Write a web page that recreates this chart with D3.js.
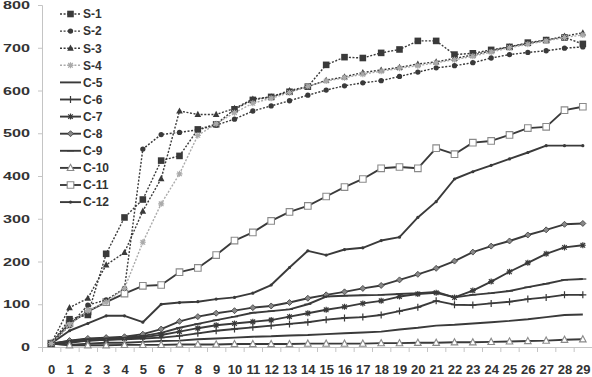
<!DOCTYPE html>
<html>
<head>
<meta charset="utf-8">
<script src="https://cdn.jsdelivr.net/npm/d3@7"></script>
<style>
  body { margin: 0; background: #fff; }
  svg { display: block; }
</style>
</head>
<body>
<svg id="chart"></svg>
<script>
// x categories
const days = [0,1,2,3,4,5,6,7,8,9,10,11,12,13,14,15,16,17,18,19,20,21,22,23,24,25,26,27,28,29];
const yTicks = [0,100,200,300,400,500,600,700,800];

// series values
const s1  = [8,65,75,218,303,345,436,447,509,521,556,578,585,597,609,660,678,676,688,696,716,716,684,687,695,702,712,718,724,709];
const s2  = [8,50,98,110,137,463,497,502,508,519,533,552,564,576,589,601,611,618,623,633,643,653,658,665,676,684,689,693,699,702];
const s3  = [8,92,114,192,221,318,394,552,544,544,558,580,585,600,609,624,632,642,648,654,662,667,675,683,693,702,710,718,727,735];
const s4  = [8,52,85,105,137,245,335,405,495,522,548,570,582,595,610,622,630,638,645,652,658,665,672,680,690,700,708,716,724,730];
const c5  = [8,5,8,10,10,12,14,15,18,20,22,24,25,27,28,30,32,34,36,41,45,50,52,55,58,61,65,70,75,76];
const c6  = [8,10,15,17,18,20,22,26,32,38,42,46,50,54,58,64,68,70,75,84,93,108,99,98,102,106,112,116,122,122];
const c7  = [8,12,15,17,20,23,28,36,44,51,55,59,63,71,79,87,94,102,108,118,124,127,116,132,153,176,197,218,233,238];
const c8  = [8,15,20,22,24,30,42,60,71,79,85,92,96,104,114,122,129,137,144,157,170,184,201,222,236,248,262,274,287,289];
const c9  = [8,14,18,20,22,26,33,45,54,63,71,80,84,88,100,118,120,121,122,124,126,129,116,122,126,131,140,148,157,159];
const c10 = [8,4,4,4,5,5,5,6,6,6,7,7,7,7,8,8,8,8,9,9,10,10,11,11,12,13,14,15,17,18];
const c11 = [8,55,83,105,125,143,145,175,185,215,249,268,295,316,330,352,374,393,418,421,418,465,451,478,482,496,512,515,554,562];
const c12 = [8,38,55,73,73,58,100,104,106,112,116,126,145,186,225,215,228,232,249,257,303,340,393,410,425,440,455,471,471,471];

const series = [
  { name: "S-1",  values: s1,  dotted: true,  color: "#3a3a3a", marker: "square" },
  { name: "S-2",  values: s2,  dotted: true,  color: "#3a3a3a", marker: "circle" },
  { name: "S-3",  values: s3,  dotted: true,  color: "#3a3a3a", marker: "triangle" },
  { name: "S-4",  values: s4,  dotted: true,  color: "#aaaaaa", marker: "star" },
  { name: "C-5",  values: c5,  dotted: false, color: "#3a3a3a", marker: "none" },
  { name: "C-6",  values: c6,  dotted: false, color: "#3a3a3a", marker: "plus" },
  { name: "C-7",  values: c7,  dotted: false, color: "#3a3a3a", marker: "star" },
  { name: "C-8",  values: c8,  dotted: false, color: "#3a3a3a", marker: "diamond" },
  { name: "C-9",  values: c9,  dotted: false, color: "#3a3a3a", marker: "dash" },
  { name: "C-10", values: c10, dotted: false, color: "#3a3a3a", marker: "opentri" },
  { name: "C-11", values: c11, dotted: false, color: "#3a3a3a", marker: "opensquare" },
  { name: "C-12", values: c12, dotted: false, color: "#3a3a3a", marker: "dot" }
];

const width = 592, height = 377;
const svg = d3.select("#chart").attr("width", width).attr("height", height);

const x = d3.scalePoint().domain(days).range([42, 592]).padding(0.5);
const y = d3.scaleLinear().domain([0, 800]).range([347, 5]);
const step = x.step();

// y axis
const yAxis = svg.append("g")
  .attr("transform", "translate(42,0)")
  .call(d3.axisLeft(y).tickValues(yTicks).tickSize(4).tickPadding(8));
yAxis.select(".domain").attr("stroke", "#c4c4c4");
yAxis.selectAll(".tick line").attr("stroke", "#c4c4c4");
yAxis.selectAll(".tick text")
  .attr("x", -12)
  .style("font-family", "'Liberation Sans', Arial, sans-serif")
  .style("font-weight", "bold")
  .style("font-size", "11px")
  .attr("fill", "#333")
  .attr("textLength", d => String(d).length * 9)
  .attr("lengthAdjust", "spacingAndGlyphs");

// x axis, ticks between categories
const xAxis = svg.append("g")
  .attr("transform", "translate(0,347)")
  .call(d3.axisBottom(x).tickSize(0).tickPadding(18));
xAxis.select(".domain").attr("stroke", "#c4c4c4");
xAxis.selectAll(".tick line").remove();
xAxis.selectAll(".tick").append("line")
  .attr("x1", -step / 2).attr("x2", -step / 2)
  .attr("y1", 0).attr("y2", 5)
  .attr("stroke", "#c4c4c4");
xAxis.select(".tick:last-of-type").append("line")
  .attr("x1", step / 2).attr("x2", step / 2)
  .attr("y1", 0).attr("y2", 5)
  .attr("stroke", "#c4c4c4");
xAxis.selectAll(".tick text")
  .style("font-family", "'Liberation Sans', Arial, sans-serif")
  .style("font-weight", "bold")
  .style("font-size", "13px")
  .attr("fill", "#333");

// marker shapes
function markerPath(type) {
  switch (type) {
    case "square": case "opensquare": return "M-3.3,-3.3h6.6v6.6h-6.6Z";
    case "triangle": case "opentri": return "M0,-3.6L3.3,2.6L-3.3,2.6Z";
    case "circle": return d3.symbol(d3.symbolCircle, 22)();
    case "dot": return d3.symbol(d3.symbolCircle, 8)();
    case "plus": return "M-3.5,0H3.5M0,-3.5V3.5";
    case "star": return "M-3,0H3M0,-3V3M-2.3,-2.3L2.3,2.3M-2.3,2.3L2.3,-2.3";
    case "diamond": return "M0,-3L3,0L0,3L-3,0Z";
    case "dash": return "M-3.5,0H3.5";
    default: return null;
  }
}
function styleMarker(sel, s) {
  const m = s.marker;
  if (m === "square" || m === "triangle" || m === "circle" || m === "dot") {
    sel.attr("fill", s.color).attr("stroke", "none");
  } else if (m === "opensquare" || m === "opentri") {
    sel.attr("fill", "#fff").attr("stroke", "#8a8a8a").attr("stroke-width", 1.1);
  } else if (m === "diamond") {
    sel.attr("fill", "#888").attr("stroke", s.color).attr("stroke-width", 0.8);
  } else {
    sel.attr("fill", "none").attr("stroke", s.color).attr("stroke-width", 1.2);
  }
}

const line = d3.line()
  .x((d, i) => x(days[i]))
  .y(d => y(d));

// draw C series first, S series on top
const drawOrder = series.slice(4).concat(series.slice(0, 4));
drawOrder.forEach(s => {
  const g = svg.append("g");
  g.append("path")
    .datum(s.values)
    .attr("d", line)
    .attr("fill", "none")
    .attr("stroke", s.color)
    .attr("stroke-width", s.dotted ? 1.4 : 1.9)
    .attr("stroke-dasharray", s.dotted ? "2,1.6" : null)
    .attr("stroke-linejoin", "round");
  const p = markerPath(s.marker);
  if (p) {
    g.selectAll("path.mk")
      .data(s.values)
      .enter().append("path")
      .attr("class", "mk")
      .attr("d", p)
      .attr("transform", (d, i) => `translate(${x(days[i])},${y(d)})`)
      .call(styleMarker, s);
  }
});

// legend
const legend = svg.append("g").attr("transform", "translate(60,14)");
series.forEach((s, i) => {
  const row = legend.append("g").attr("transform", `translate(0,${i * 17.1})`);
  row.append("line")
    .attr("x1", 0).attr("x2", 21)
    .attr("stroke", s.color)
    .attr("stroke-width", s.dotted ? 1.4 : 1.9)
    .attr("stroke-dasharray", s.dotted ? "2,1.6" : null);
  const p = markerPath(s.marker);
  if (p) {
    row.append("path")
      .attr("d", p)
      .attr("transform", "translate(10.5,0)")
      .call(styleMarker, s);
  }
  row.append("text")
    .attr("x", 23)
    .attr("y", 4.3)
    .style("font-family", "'Liberation Sans', Arial, sans-serif")
    .style("font-weight", "bold")
    .style("font-size", "12px")
    .attr("fill", "#333")
    .text(s.name);
});
</script>
</body>
</html>
